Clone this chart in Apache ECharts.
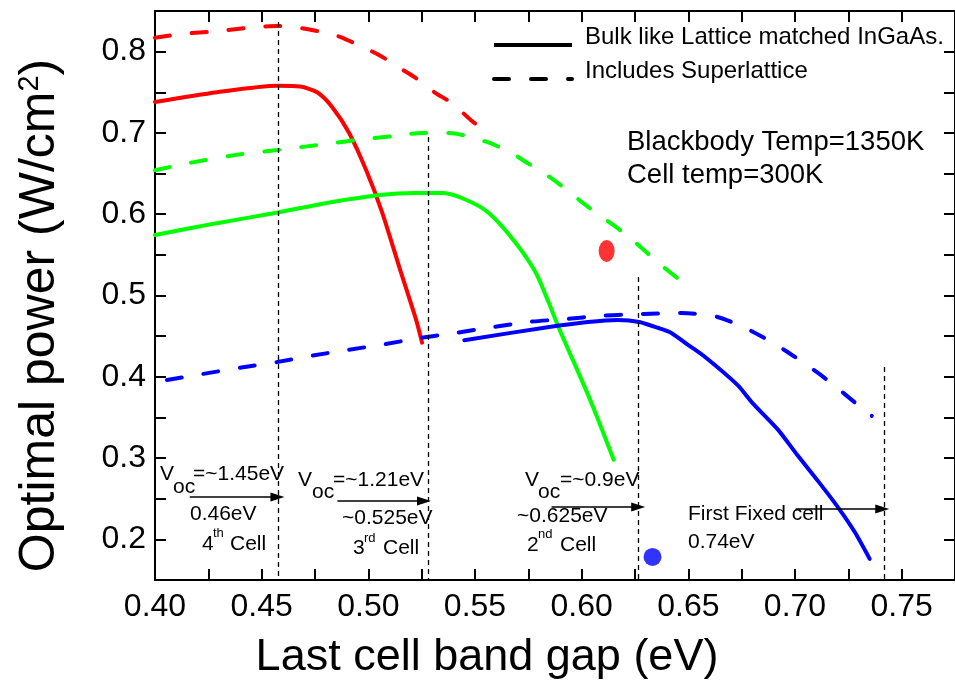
<!DOCTYPE html>
<html><head><meta charset="utf-8">
<script src="https://cdn.jsdelivr.net/npm/echarts@6/dist/echarts.min.js"></script>
<style>html,body{margin:0;padding:0;background:#fff}#c{width:955px;height:686px}</style>
</head><body><div id="c"></div>
<script>
// ---------------- DATA ----------------
const xTickMin = 0.40, xTickMax = 0.775, xTickStep = 0.025;
const yTickMin = 0.15, yTickMax = 0.85, yTickStep = 0.05;

const redSolidX = [0.400,0.429,0.4575,0.468,0.476,0.483,0.491,0.499,0.5065,0.5145,0.5224,0.5252];
const redSolidY = [0.738,0.750,0.758,0.757,0.750,0.732,0.700,0.654,0.602,0.535,0.470,0.442];

const redDashX = [0.400,0.413,0.429,0.446,0.4575,0.466,0.4785,0.487,0.497,0.505,0.514,0.522,0.531,0.539,0.548,0.556];
const redDashY = [0.817,0.822,0.825,0.830,0.8315,0.830,0.824,0.818,0.806,0.796,0.781,0.768,0.750,0.737,0.716,0.700];

const greenSolidX = [0.400,0.429,0.4575,0.483,0.5065,0.522,0.535,0.546,0.5565,0.569,0.5785,0.5846,0.5893,0.604,0.615];
const greenSolidY = [0.5745,0.589,0.602,0.615,0.624,0.626,0.626,0.6175,0.6015,0.565,0.528,0.491,0.460,0.3715,0.298];

const greenDashX = [0.400,0.416,0.438,0.4575,0.476,0.494,0.511,0.525,0.538,0.544,0.5565,0.566,0.574,0.587,0.603,0.621,0.637,0.646];
const greenDashY = [0.654,0.663,0.673,0.679,0.685,0.691,0.696,0.700,0.700,0.6975,0.688,0.677,0.664,0.642,0.609,0.5745,0.538,0.519];

const blueSolidX = [0.545,0.584,0.603,0.617,0.627,0.636,0.642,0.650,0.658,0.673,0.680,0.692,0.701,0.711,0.720,0.728,0.735];
const blueSolidY = [0.445,0.461,0.4675,0.470,0.4675,0.460,0.454,0.439,0.424,0.390,0.368,0.335,0.304,0.271,0.240,0.209,0.176];

const blueDashX = [0.4056,0.4224,0.4397,0.457,0.4738,0.4902,0.5075,0.5248,0.5411,0.5579,0.5752,0.5921,0.6089,0.6257,0.6467,0.6636,0.6804,0.6972,0.7145,0.7318,0.736];
const blueDashY = [0.396,0.4035,0.411,0.418,0.426,0.433,0.440,0.448,0.454,0.461,0.4675,0.471,0.475,0.477,0.4785,0.4736,0.4552,0.4293,0.3974,0.3604,0.352];

const dotX = [0.6117, 0.6332];
const dotY = [0.5548, 0.1784];

// vertical dashed guides at the cell band gaps
const guideX   = [0.4576, 0.5282, 0.6266, 0.7418];
const guideTop = [0.8365, 0.695, 0.5228, 0.4121];
// arrows
const arrowX0 = [0.4163, 0.4855, 0.5859, 0.7003];
const arrowX1 = [0.4574, 0.5261, 0.6265, 0.7409];
const arrowY  = [0.2522, 0.2473, 0.2399, 0.2375];

const legendNames = ['Bulk like Lattice matched InGaAs.', 'Includes Superlattice'];
const xTitle = 'Last cell band gap (eV)';
const yTitle = '{a|Optimal power (W/cm}{s|2}{a|)}';

// ---------------- STYLE / LAYOUT ----------------
const FONT = '"Liberation Sans", Arial, Helvetica, sans-serif';
const RED = '#ff0000', GREEN = '#00ff00', BLUE = '#0000ff';
const DASH = [15, 22];
const zip = (xs, ys) => xs.map((x, i) => [x, ys[i]]);

function lineSeries(name, xs, ys, color, dashed) {
  return {
    type: 'line', name, data: zip(xs, ys), showSymbol: false, symbol: 'none',
    smooth: 0.25, silent: true, z: 3,
    lineStyle: { color, width: 4, type: dashed ? DASH : 'solid', cap: 'round' },
    itemStyle: { color }
  };
}

const annoFS = 21, supFS = 13;
const annotations = [
  ['V', 160, 474, annoFS], ['oc', 173, 487, annoFS], ['=~1.45eV', 193, 474, annoFS],
  ['0.46eV', 190, 514, annoFS], ['4', 202, 544, annoFS], ['th', 213, 533, supFS], ['Cell', 230, 544, annoFS],
  ['V', 298, 480, annoFS], ['oc', 312, 492, annoFS], ['=~1.21eV', 333, 480, annoFS],
  ['~0.525eV', 342, 518, annoFS], ['3', 353, 548, annoFS], ['rd', 364, 538, supFS], ['Cell', 383, 548, annoFS],
  ['V', 525, 480, annoFS], ['oc', 538, 492, annoFS], ['=~0.9eV', 560, 480, annoFS],
  ['~0.625eV', 517, 516, annoFS], ['2', 527, 545, annoFS], ['nd', 538, 534, supFS], ['Cell', 560, 545, annoFS],
  ['First Fixed cell', 688, 514, annoFS], ['0.74eV', 688, 542, annoFS],
  ['Blackbody Temp=1350K', 627, 142, 27.5], ['Cell temp=300K', 627, 175, 27.5]
];

const chart = echarts.init(document.getElementById('c'), null, { renderer: 'canvas' });

function mkAxis(extra) {
  return Object.assign({
    axisLine: { show: true, onZero: false, lineStyle: { color: '#000', width: 2 } },
    axisTick: { show: true, inside: true, length: 11, lineStyle: { color: '#000', width: 2 } },
    splitLine: { show: false }
  }, extra);
}

const option = {
  animation: false,
  backgroundColor: '#fff',
  grid: { left: 155, top: 11, right: -2, bottom: 106, containLabel: false },
  legend: {
    show: true, orient: 'vertical', left: 487, top: 20,
    itemWidth: 78, itemHeight: 20, itemGap: 6,
    data: legendNames,
    formatter: name => '{t|' + name + '}{sp| }',
    lineStyle: { width: 4 },
    textStyle: {
      fontFamily: FONT, fontSize: 24, color: '#000', padding: [0, 0, 0, 8],
      rich: {
        t: { fontFamily: FONT, fontSize: 24, lineHeight: 24, verticalAlign: 'top', color: '#000' },
        sp: { fontSize: 1, lineHeight: 40 }
      }
    },
    selectedMode: false
  },
  xAxis: [
    mkAxis({
      type: 'value', position: 'bottom', min: xTickMin, max: xTickMax, interval: xTickStep,
      name: xTitle, nameLocation: 'middle', nameGap: 55,
      nameTextStyle: { fontFamily: FONT, fontSize: 45, color: '#000', padding: [0, 136, 0, 0] },
      axisLabel: {
        show: true, margin: 11, fontFamily: FONT, fontSize: 32, color: '#000', showMaxLabel: false,
        formatter: v => (Math.round(v * 40) % 2 === 0 ? v.toFixed(2) : '')
      }
    }),
    mkAxis({
      type: 'value', position: 'top', min: xTickMin, max: xTickMax, interval: xTickStep,
      axisLabel: { show: false }
    })
  ],
  yAxis: [
    mkAxis({
      type: 'value', position: 'left', min: yTickMin, max: yTickMax, interval: yTickStep,
      name: yTitle, nameLocation: 'middle', nameGap: 90, nameRotate: 90,
      nameTextStyle: {
        fontFamily: FONT, fontSize: 50, color: '#000', padding: [0, 40, 0, 0],
        rich: {
          a: { fontFamily: FONT, fontSize: 50, lineHeight: 50, color: '#000' },
          s: { fontFamily: FONT, fontSize: 29, lineHeight: 31, verticalAlign: 'top', color: '#000' }
        }
      },
      axisLabel: {
        show: true, margin: 9, fontFamily: FONT, fontSize: 32, color: '#000',
        formatter: v => (Math.round(v * 20) % 2 === 0 ? v.toFixed(1) : '')
      }
    }),
    mkAxis({
      type: 'value', position: 'right', min: yTickMin, max: yTickMax, interval: yTickStep,
      axisLabel: { show: false }
    })
  ],
  series: [
    lineSeries('redSolid', redSolidX, redSolidY, RED, false),
    lineSeries('redDash', redDashX, redDashY, RED, true),
    lineSeries('greenSolid', greenSolidX, greenSolidY, GREEN, false),
    lineSeries('greenDash', greenDashX, greenDashY, GREEN, true),
    lineSeries('blueSolid', blueSolidX, blueSolidY, BLUE, false),
    lineSeries('blueDash', blueDashX, blueDashY, BLUE, true),
    {
      type: 'line', name: legendNames[0], data: [], showSymbol: false, symbol: 'none',
      lineStyle: { color: '#000', width: 4, type: 'solid' }, itemStyle: { color: '#000', opacity: 0 }
    },
    {
      type: 'line', name: legendNames[1], data: [], showSymbol: false, symbol: 'none',
      lineStyle: { color: '#000', width: 4, type: DASH, cap: 'round' }, itemStyle: { color: '#000', opacity: 0 }
    },
    {
      type: 'scatter', name: 'redDot', data: [[dotX[0], dotY[0]]], symbol: 'circle', symbolSize: [16, 22],
      itemStyle: { color: RED }, silent: true, z: 4,
      markLine: {
        silent: true, symbol: ['none', 'none'], animation: false,
        label: { show: false },
        lineStyle: { color: '#000', width: 1.3, type: [5, 4] },
        data: guideX.map((x, i) => [{ coord: [x, guideTop[i]] }, { coord: [x, yTickMin] }])
      }
    },
    {
      type: 'scatter', name: 'blueDot', data: [[dotX[1], dotY[1]]], symbol: 'circle', symbolSize: 18,
      itemStyle: { color: BLUE }, silent: true, z: 4,
      markLine: {
        silent: true, symbol: ['none', 'triangle'], symbolSize: [9, 14], animation: false,
        label: { show: false },
        lineStyle: { color: '#000', width: 1.5, type: 'solid' },
        itemStyle: { color: '#000' },
        data: arrowX0.map((x, i) => [{ coord: [x, arrowY[i]] }, { coord: [arrowX1[i], arrowY[i]] }])
      }
    }
  ],
  graphic: annotations.map(a => ({
    type: 'text', x: a[1], y: a[2], silent: true, z: 10,
    style: { text: a[0], fontFamily: FONT, fontSize: a[3], fill: '#000', align: 'left', verticalAlign: 'middle' }
  }))
};
chart.setOption(option);
</script>
</body></html>
